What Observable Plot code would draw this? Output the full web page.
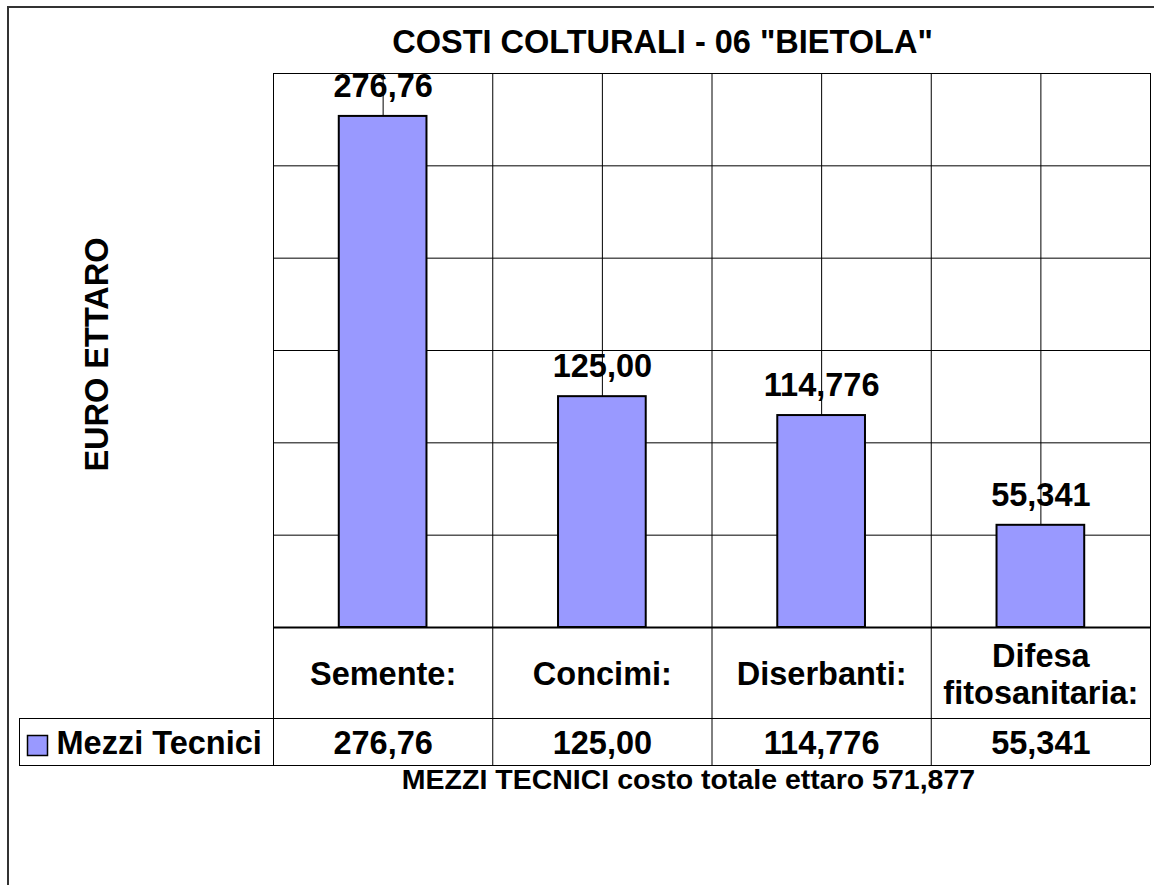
<!DOCTYPE html>
<html><head><meta charset="utf-8">
<script src="https://cdn.jsdelivr.net/npm/d3@7"></script>
<script src="https://cdn.jsdelivr.net/npm/@observablehq/plot@0.6"></script>
<style>
html,body{margin:0;padding:0;background:#fff;}
#wrap{position:relative;width:1154px;height:885px;overflow:hidden;background:#fff;}
#border{position:absolute;left:7px;top:6px;width:1200px;height:1000px;border-left:2px solid #333;border-top:2px solid #333;}
#chart{position:absolute;left:0;top:0;}
</style></head><body>
<div id="wrap"><div id="border"></div><div id="chart"></div></div>
<script>
// ---- data ----
const categories = ["Semente:", "Concimi:", "Diserbanti:", "Difesa\nfitosanitaria:"];
const values = [276.76, 125.00, 114.776, 55.341];
const valueLabels = ["276,76", "125,00", "114,776", "55,341"];
const seriesName = "Mezzi Tecnici";
const chartTitle = 'COSTI COLTURALI - 06 "BIETOLA"';
const yLabel = "EURO ETTARO";
const caption = "MEZZI TECNICI costo totale ettaro 571,877";
const yDomain = [0, 300];
const yTicks = [0, 50, 100, 150, 200, 250, 300];

// ---- layout ----
const W = 1154, H = 885, mL = 273, mR = 4, mT = 73, mB = 258;
const step = (W - mL - mR) / categories.length;
const row1 = 91, row2 = 47, legendW = 254;
const plotH = H - mT - mB;
const font = "'Liberation Sans', Arial, sans-serif";
const fill = "#9999ff";

const data = categories.map((c, i) => ({category: c, value: values[i], label: valueLabels[i]}));

const txt = {fill: "#000", fontWeight: "bold", fontSize: 32.5, fontFamily: font, lineAnchor: "middle"};

const chart = Plot.plot({
  width: W, height: H,
  marginLeft: mL, marginRight: mR, marginTop: mT, marginBottom: mB,
  x: {domain: categories, padding: 0, round: false, axis: null},
  y: {domain: yDomain, axis: null},
  style: {fontFamily: font, background: "transparent", overflow: "visible"},
  marks: [
    Plot.gridY(yTicks, {stroke: "#000", strokeOpacity: 1, strokeWidth: 1}),
    Plot.ruleX(categories, {stroke: "#000", strokeWidth: 1}),
    Plot.ruleX(categories, {stroke: "#000", strokeWidth: 1, dx: -step / 2, insetBottom: -(row1 + row2)}),
    Plot.ruleX([categories[categories.length - 1]], {stroke: "#000", strokeWidth: 1, dx: step / 2, insetBottom: -(row1 + row2)}),
    Plot.ruleX([categories[0]], {stroke: "#000", strokeWidth: 1, dx: -step / 2 - legendW, insetTop: plotH + row1, insetBottom: -(row1 + row2)}),
    Plot.ruleY([0], {stroke: "#000", strokeWidth: 1, dy: row1, insetLeft: -legendW}),
    Plot.ruleY([0], {stroke: "#000", strokeWidth: 1, dy: row1 + row2, insetLeft: -legendW}),
    Plot.barY(data, {x: "category", y: "value", fill, stroke: "#000", strokeWidth: 2, insetLeft: step * 0.3, insetRight: step * 0.3}),
    Plot.ruleY([0], {stroke: "#000", strokeWidth: 2}),
    // value labels above bars
    Plot.text(data, {x: "category", y: "value", text: "label", dy: -30, ...txt}),
    // table: category row
    Plot.text(data, {x: "category", text: "category", frameAnchor: "bottom", dy: 46, lineHeight: 1.15, ...txt}),
    // table: value row
    Plot.text(data, {x: "category", text: "label", frameAnchor: "bottom", dy: 116, ...txt}),
    // legend cell
    Plot.dot([seriesName], {frameAnchor: "bottom-left", dx: -236, dy: 118, symbol: "square", r: 20 / Math.sqrt(Math.PI), fill, stroke: "#000", strokeWidth: 1.5}),
    Plot.text([seriesName], {frameAnchor: "bottom-left", dx: -217, dy: 116, textAnchor: "start", text: d => d, ...txt}),
    // title, y label, caption
    Plot.text([chartTitle], {frameAnchor: "top", dx: -49.5, dy: -31, text: d => d, ...txt}),
    Plot.text([yLabel], {frameAnchor: "left", dx: -176, dy: 4, rotate: -90, textAnchor: "middle", text: d => d, ...txt}),
    Plot.text([caption], {frameAnchor: "bottom", dx: -23.5, dy: 152, text: d => d, ...txt, fontSize: 28.5})
  ]
});
document.getElementById("chart").appendChild(chart);
</script>
</body></html>
